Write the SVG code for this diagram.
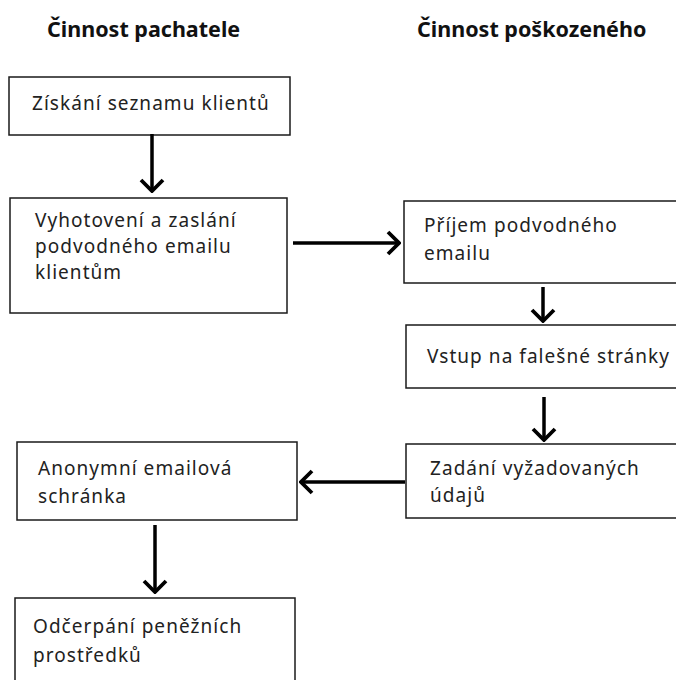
<svg xmlns="http://www.w3.org/2000/svg" width="676" height="680" viewBox="0 0 676 680">
  <defs>
    <style>
      .box { fill: #ffffff; stroke: #1a1a1a; stroke-width: 1.5; }
      .t { font-family: "Noto Sans", "Open Sans", sans-serif; font-size: 19px; letter-spacing: 1.05px; fill: #222222; }
      .h { font-family: "Noto Sans", "Open Sans", sans-serif; font-size: 21.5px; font-weight: bold; fill: #111111; }
      .conn { stroke: #000000; stroke-width: 3.5; fill: none; }
    </style>
    <marker id="arr" viewBox="-14 -14 16 28" refX="0" refY="0" markerWidth="16" markerHeight="28" markerUnits="userSpaceOnUse" orient="auto">
      <path d="M-11,-11 L0,0 L-11,11" fill="none" stroke="#000000" stroke-width="3.8" stroke-linecap="butt" stroke-linejoin="miter"/>
    </marker>
  </defs>
  <rect width="676" height="680" fill="#ffffff"/>

  <g id="header-pachatel">
    <text class="h" x="47" y="37">Činnost pachatele</text>
  </g>
  <g id="header-poskozeny">
    <text class="h" x="417" y="37">Činnost poškozeného</text>
  </g>

  <g id="n1">
    <rect class="box" x="9" y="77" width="281" height="58"/>
    <text class="t" x="32" y="110">Získání seznamu klientů</text>
  </g>
  <g id="n2">
    <rect class="box" x="10" y="198" width="277" height="115"/>
    <text class="t" x="35" y="227">Vyhotovení a zaslání</text>
    <text class="t" x="35" y="253">podvodného emailu</text>
    <text class="t" x="35" y="279">klientům</text>
  </g>
  <g id="n3">
    <rect class="box" x="404" y="201" width="280" height="82"/>
    <text class="t" x="424" y="232">Příjem podvodného</text>
    <text class="t" x="424" y="260">emailu</text>
  </g>
  <g id="n4">
    <rect class="box" x="406" y="325" width="280" height="63"/>
    <text class="t" x="427" y="363">Vstup na falešné stránky</text>
  </g>
  <g id="n5">
    <rect class="box" x="406" y="444" width="280" height="74"/>
    <text class="t" x="430" y="475">Zadání vyžadovaných</text>
    <text class="t" x="430" y="502">údajů</text>
  </g>
  <g id="n6">
    <rect class="box" x="17" y="442" width="280" height="78"/>
    <text class="t" x="38" y="475">Anonymní emailová</text>
    <text class="t" x="38" y="503">schránka</text>
  </g>
  <g id="n7">
    <rect class="box" x="15" y="598" width="280" height="90"/>
    <text class="t" x="33" y="633">Odčerpání peněžních</text>
    <text class="t" x="33" y="662">prostředků</text>
  </g>

  <g id="connectors">
    <line class="conn" x1="152" y1="134" x2="152" y2="191" marker-end="url(#arr)"/>
    <line class="conn" x1="293" y1="243" x2="399" y2="243" marker-end="url(#arr)"/>
    <line class="conn" x1="543" y1="287" x2="543" y2="321" marker-end="url(#arr)"/>
    <line class="conn" x1="544" y1="397" x2="544" y2="440" marker-end="url(#arr)"/>
    <line class="conn" x1="405" y1="482" x2="301" y2="482" marker-end="url(#arr)"/>
    <line class="conn" x1="155" y1="525" x2="155" y2="592" marker-end="url(#arr)"/>
  </g>
</svg>
